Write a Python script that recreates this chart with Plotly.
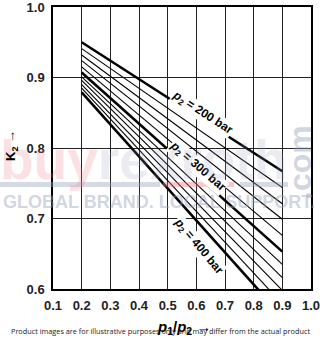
import plotly.graph_objects as go

# Data
pressures = [200, 220, 240, 260, 280, 300, 320, 340, 360, 380, 400]
x_points = [0.2, 0.9]
k_at_start = [0.950, 0.941, 0.932, 0.924, 0.915, 0.907, 0.901, 0.896, 0.890, 0.885, 0.879]
k_at_end = [0.767, 0.744, 0.721, 0.699, 0.676, 0.653, 0.635, 0.616, 0.598, 0.579, 0.561]
labelled = [200, 300, 400]
x_ticks = [0.1, 0.2, 0.3, 0.4, 0.5, 0.6, 0.7, 0.8, 0.9, 1.0]
y_ticks = [0.6, 0.7, 0.8, 0.9, 1.0]

W, H = 320, 338
ML, MR, MT, MB = 53, 9, 7, 49
pw, ph = W - ML - MR, H - MT - MB


def px(xp):
    return (xp - ML) / pw


def py(yp):
    return (H - MB - yp) / ph


fig = go.Figure()
for p, k0, k1 in zip(pressures, k_at_start, k_at_end):
    thick = p in labelled
    fig.add_trace(go.Scatter(
        x=x_points, y=[k0, k1], mode="lines",
        line=dict(color="black", width=2.6 if thick else 1.1),
        showlegend=False, hoverinfo="skip"))

lab_font = dict(family="Liberation Sans Narrow, Liberation Sans, Arial", size=12,
                color="black", weight="bold")
labels = [
    (0.621, 0.850, 33, "<i>p</i><sub>2</sub> = 200 bar"),
    (0.605, 0.773, 41, "<i>p</i><sub>2</sub> = 300 bar"),
    (0.609, 0.660, 50, "<i>p</i><sub>2</sub> = 400 bar"),
]
for x, y, ang, t in labels:
    fig.add_annotation(x=x, y=y, xref="x", yref="y", text=t, showarrow=False,
                       xanchor="center", yanchor="middle",
                       textangle=ang, font=lab_font, bgcolor="white", borderpad=0)

# Watermark
wm_pink = "rgba(236,120,135,0.5)"
wm_grey = "rgba(150,162,188,0.45)"
fig.add_annotation(x=px(-2), y=py(160), xref="paper", yref="paper", xanchor="left", yanchor="middle",
                   text=f"<b><span style='color:{wm_pink}'>buy</span>"
                        f"<span style='color:{wm_grey}'>rexroth</span></b>",
                   showarrow=False,
                   font=dict(family="Liberation Sans", size=55, weight="bold", color=wm_grey))
fig.add_shape(type="rect", xref="paper", yref="paper", x0=px(0), x1=px(160),
              y0=py(187), y1=py(182), fillcolor="rgba(150,162,188,0.4)", line_width=0, layer="above")
fig.add_shape(type="rect", xref="paper", yref="paper", x0=px(163), x1=px(234),
              y0=py(187), y1=py(182), fillcolor="rgba(236,120,135,0.4)", line_width=0, layer="above")
fig.add_shape(type="rect", xref="paper", yref="paper", x0=px(240), x1=px(288),
              y0=py(187), y1=py(182), fillcolor="rgba(150,162,188,0.4)", line_width=0, layer="above")
fig.add_annotation(x=px(1), y=py(202), xref="paper", yref="paper", xanchor="left", yanchor="middle",
                   text="GLOBAL BRAND. LOCAL SUPPORT.", showarrow=False,
                   font=dict(family="Liberation Sans", size=18, weight="bold", color=wm_grey))
fig.add_annotation(x=px(300), y=py(163), xref="paper", yref="paper", xanchor="center", yanchor="middle",
                   text=".com", textangle=-90, showarrow=False,
                   font=dict(family="Liberation Sans", size=32, weight="bold", color=wm_grey))

# Axis titles and footer
fig.add_annotation(x=px(11), y=py(146), xref="paper", yref="paper", text="K<sub>2</sub> →",
                   xanchor="center", yanchor="middle", textangle=-90, showarrow=False,
                   font=dict(family="Liberation Sans", size=13, color="black", weight="bold"))
fig.add_annotation(x=px(184), y=py(327), xref="paper", yref="paper",
                   text="<i>p</i><sub>1</sub>/<i>p</i><sub>2</sub> →", xanchor="center", yanchor="middle",
                   showarrow=False, font=dict(family="Liberation Sans", size=15, color="black", weight="bold"))
fig.add_annotation(x=px(160), y=py(331), xref="paper", yref="paper", xanchor="center", yanchor="middle",
                   text="Product images are for illustrative purposes only and may differ from the actual product",
                   showarrow=False, font=dict(family="Open Sans", size=7.3, color="#222"))

axis_common = dict(showgrid=True, gridcolor="#222", gridwidth=1,
                   showline=True, linecolor="black", linewidth=1.5, mirror=True, zeroline=False,
                   automargin=False, ticks="", ticklabeloverflow="allow", ticklabelstandoff=4,
                   tickfont=dict(family="Liberation Sans", size=13, color="#222", weight="bold"))

fig.update_layout(
    width=W, height=H,
    margin=dict(l=ML, r=MR, t=MT, b=MB, autoexpand=False),
    plot_bgcolor="white", paper_bgcolor="white",
    xaxis=dict(range=[0.1, 1.0], tickvals=x_ticks, ticktext=[f"{v:.1f}" for v in x_ticks], **axis_common),
    yaxis=dict(range=[0.6, 1.0], tickvals=y_ticks, ticktext=[f"{v:.1f}" for v in y_ticks], **axis_common),
)

fig.write_html("out.html")
